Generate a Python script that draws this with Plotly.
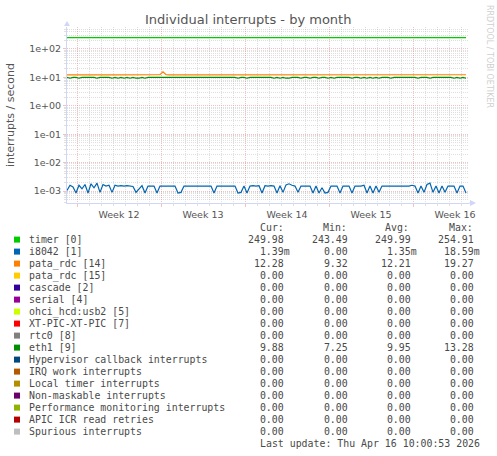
import plotly.graph_objects as go
import pandas as pd

# --- data (6 hour steps) ---
start_time = "2026-03-15 04:00"
n_points = 134

timer = [
    250.0, 250.1, 249.9, 250.0, 250.0, 250.1, 250.0, 249.9, 250.0, 250.0,
    250.0, 250.1, 250.0, 250.0, 249.9, 250.0, 250.0, 250.0, 250.1, 250.0,
    250.0, 250.0, 249.9, 250.0, 250.0, 250.0, 250.1, 250.0, 250.0, 250.0,
    250.0, 249.9, 250.0, 250.0, 250.0, 250.1, 250.0, 250.0, 250.0, 250.0,
    249.9, 250.0, 250.0, 250.0, 250.1, 250.0, 250.0, 250.0, 250.0, 249.9,
    250.0, 250.0, 250.1, 250.0, 250.0, 250.0, 250.0, 249.9, 250.0, 250.0,
    250.0, 250.1, 250.0, 250.0, 250.0, 249.9, 250.0, 250.0, 250.0, 250.1,
    250.0, 250.0, 250.0, 249.9, 250.0, 250.0, 250.0, 250.1, 250.0, 250.0,
    250.0, 249.9, 250.0, 250.0, 250.0, 250.1, 250.0, 250.0, 250.0, 250.0,
    249.9, 250.0, 250.0, 250.1, 250.0, 250.0, 250.0, 249.9, 250.0, 250.0,
    250.0, 250.1, 250.0, 250.0, 250.0, 250.0, 249.9, 250.0, 250.0, 250.1,
    250.0, 250.0, 250.0, 249.9, 250.0, 250.0, 250.0, 250.1, 250.0, 250.0,
    250.0, 249.9, 250.0, 250.0, 250.0, 250.1, 250.0, 250.0, 250.0, 249.9,
    250.0, 250.0, 250.0, 250.0,
]

# i8042 in milli-interrupts per second
i8042_milli = [
    1.05, 1.6, 1.4, 0.85, 1.6, 1.2, 1.7, 0.85, 1.8, 1.3,
    1.9, 0.9, 1.7, 1.5, 1.6, 0.9, 1.6, 1.5, 1.55, 1.5,
    1.55, 1.5, 1.45, 0.9, 1.2, 1.55, 0.85, 1.5, 1.5, 1.5,
    0.85, 1.5, 1.5, 1.5, 1.5, 1.5, 1.5, 0.85, 0.9, 1.5,
    1.5, 1.5, 1.5, 1.5, 1.5, 1.5, 1.5, 1.5, 1.5, 0.85,
    1.5, 1.5, 1.5, 1.5, 1.5, 1.5, 1.5, 0.85, 0.9, 1.5,
    0.85, 1.5, 1.55, 1.5, 1.55, 0.85, 1.55, 1.5, 1.55, 1.5,
    0.85, 1.55, 0.9, 1.65, 1.8, 1.6, 1.5, 0.9, 1.5, 1.5,
    1.5, 1.5, 0.85, 1.5, 0.85, 1.3, 0.85, 0.9, 1.5, 1.5,
    1.5, 0.85, 1.5, 1.5, 1.5, 0.85, 1.5, 1.5, 1.5, 1.6,
    0.85, 1.5, 0.85, 1.5, 0.9, 1.5, 1.5, 1.5, 1.5, 1.5,
    1.5, 1.5, 1.5, 1.5, 1.5, 1.6, 1.5, 0.85, 1.5, 0.9,
    1.7, 1.9, 0.9, 1.5, 0.85, 1.5, 0.9, 1.5, 1.5, 1.5,
    0.85, 1.5, 1.5, 0.85,
]

pata_rdc_14 = [
    12.2, 12.3, 12.2, 12.1, 12.2, 12.2, 12.3, 12.2, 12.2, 12.1,
    12.2, 12.2, 12.3, 12.2, 12.2, 12.2, 12.1, 12.2, 12.2, 12.3,
    12.2, 12.2, 12.2, 12.1, 12.2, 12.2, 12.3, 12.2, 12.2, 12.2,
    12.2, 12.4, 15.5, 12.3, 12.2, 12.2, 12.1, 12.2, 12.2, 12.3,
    12.2, 12.2, 12.2, 12.1, 12.2, 12.2, 12.3, 12.2, 12.2, 12.2,
    12.1, 12.2, 12.2, 12.3, 12.2, 12.2, 12.2, 12.1, 12.2, 12.2,
    12.3, 12.2, 12.2, 12.2, 12.1, 12.2, 12.2, 12.3, 12.2, 12.2,
    12.2, 12.1, 12.2, 12.2, 12.3, 12.2, 12.2, 12.2, 12.1, 12.2,
    12.2, 12.3, 12.2, 12.2, 12.2, 12.1, 12.2, 12.2, 12.3, 12.2,
    12.2, 12.2, 12.1, 12.2, 12.2, 12.3, 12.2, 12.2, 12.2, 12.1,
    12.2, 12.2, 12.3, 12.2, 12.2, 12.2, 12.1, 12.2, 12.2, 12.3,
    12.2, 12.2, 12.2, 12.1, 12.2, 12.2, 12.3, 12.2, 12.2, 12.2,
    12.1, 12.2, 12.2, 12.3, 12.2, 12.2, 12.2, 12.1, 12.2, 12.2,
    12.3, 12.2, 12.2, 12.3,
]

eth1 = [
    10.0, 9.3, 10.0, 10.0, 9.3, 10.0, 10.0, 10.0, 10.0, 10.0,
    9.3, 10.0, 10.0, 10.0, 10.0, 9.3, 10.0, 9.3, 10.0, 9.3,
    10.0, 9.3, 10.0, 9.3, 9.3, 10.0, 9.3, 10.0, 10.0, 10.0,
    10.0, 10.0, 10.1, 10.0, 10.0, 10.0, 10.0, 10.0, 10.0, 10.0,
    10.0, 10.0, 10.0, 10.0, 10.0, 10.0, 10.0, 10.0, 10.0, 10.0,
    10.0, 10.0, 10.0, 10.0, 10.0, 10.0, 10.0, 9.3, 10.0, 10.0,
    9.3, 10.0, 10.0, 10.0, 10.0, 10.0, 10.0, 10.0, 10.0, 9.3,
    10.0, 9.3, 10.0, 9.3, 9.3, 10.0, 10.0, 10.0, 9.3, 10.0,
    10.0, 9.3, 10.0, 10.0, 9.3, 10.0, 10.0, 9.3, 10.0, 9.3,
    10.0, 10.0, 10.0, 10.0, 10.0, 9.3, 10.0, 10.0, 9.3, 10.0,
    9.3, 10.0, 9.3, 10.0, 9.3, 10.0, 10.0, 10.0, 9.3, 10.0,
    10.0, 10.0, 10.0, 10.0, 10.0, 10.0, 10.0, 9.3, 10.0, 10.0,
    10.0, 9.3, 10.0, 10.0, 10.0, 10.0, 10.0, 10.0, 10.0, 9.3,
    10.0, 9.3, 10.0, 9.3,
]

# --- legend table ---
legend_names = [
    "timer [0]", "i8042 [1]", "pata_rdc [14]", "pata_rdc [15]", "cascade [2]",
    "serial [4]", "ohci_hcd:usb2 [5]", "XT-PIC-XT-PIC [7]", "rtc0 [8]", "eth1 [9]",
    "Hypervisor callback interrupts", "IRQ work interrupts", "Local timer interrupts",
    "Non-maskable interrupts", "Performance monitoring interrupts",
    "APIC ICR read retries", "Spurious interrupts",
]
legend_colors = [
    "#00CC00", "#0066B3", "#FF8000", "#FFCC00", "#330099",
    "#990099", "#CCFF00", "#FF0000", "#808080", "#008F00",
    "#00487D", "#B35A00", "#B38F00", "#6B006B", "#8FB300",
    "#B30000", "#BEBEBE",
]
cur_vals = [249.98, 1.39e-3, 12.28, 0, 0, 0, 0, 0, 0, 9.88, 0, 0, 0, 0, 0, 0, 0]
min_vals = [243.49, 0, 9.32, 0, 0, 0, 0, 0, 0, 7.25, 0, 0, 0, 0, 0, 0, 0]
avg_vals = [249.99, 1.35e-3, 12.21, 0, 0, 0, 0, 0, 0, 9.95, 0, 0, 0, 0, 0, 0, 0]
max_vals = [254.91, 18.59e-3, 19.27, 0, 0, 0, 0, 0, 0, 13.28, 0, 0, 0, 0, 0, 0, 0]

y_tickvals = [1e-3, 1e-2, 1e-1, 1e0, 1e1, 1e2]
y_ticktext = ["1e-03", "1e-02", "1e-01", "1e+00", "1e+01", "1e+02"]

last_update = "Last update: Thu Apr 16 10:00:53 2026"

# --- geometry (pixels) ---
W, H = 497, 456
PL, PR, PT, PB = 67, 469, 27, 203


def px_x(px):
    return (px - PL) / (PR - PL)


def px_y(py):
    return (PB - py) / (PB - PT)


def fmt(v):
    if 0 < v < 1:
        s = f"{v * 1000:6.2f}m"
    else:
        s = f"{v:6.2f} "
    return s.replace(" ", "\u00a0")


times = pd.date_range(start_time, periods=n_points, freq="6h")
i8042 = [v / 1000 for v in i8042_milli]

fig = go.Figure()
series = [
    ("timer [0]", timer, "#00CC00"),
    ("i8042 [1]", i8042, "#0066B3"),
    ("pata_rdc [14]", pata_rdc_14, "#FF8000"),
    ("eth1 [9]", eth1, "#008F00"),
]
for name, vals, color in series:
    fig.add_trace(go.Scatter(x=times, y=vals, name=name, mode="lines",
                             line=dict(color=color, width=1.2), showlegend=False,
                             hoverinfo="skip"))

MGRID = "rgba(235,130,130,0.5)"
GRID = "rgba(185,185,185,0.45)"
AXIS = "#CFD6F8"
FONT = "#4A4A4A"
MONO = "DejaVu Sans Mono"

fig.update_layout(
    width=W, height=H, autosize=False,
    margin=dict(l=PL, r=W - PR, t=PT, b=H - PB, pad=0),
    paper_bgcolor="white", plot_bgcolor="white",
    font=dict(family="DejaVu Sans", color=FONT, size=10),
    showlegend=False,
    xaxis=dict(
        type="date",
        range=["2026-03-15 04:00", "2026-04-17 16:00"],
        tick0="2026-03-16", dtick=7 * 86400000,
        tickformat="Week %V", ticklabelmode="period",
        showgrid=True, gridcolor=MGRID, griddash="1px,1px", gridwidth=1,
        ticks="outside", ticklen=3, tickcolor=MGRID,
        minor=dict(dtick=86400000, tick0="2026-03-16", showgrid=True,
                   gridcolor=GRID, griddash="1px,1px", ticks="outside",
                   ticklen=2, tickcolor=GRID),
        showline=True, linecolor=AXIS, linewidth=1,
        tickfont=dict(size=9.5, color="#555555"),
        zeroline=False, fixedrange=True,
    ),
    yaxis=dict(
        type="log",
        range=[-3.42, 2.77],
        tickmode="array", tickvals=y_tickvals, ticktext=y_ticktext,
        showgrid=True, gridcolor=MGRID, griddash="1px,1px", gridwidth=1,
        ticks="outside", ticklen=3, tickcolor=MGRID,
        minor=dict(tickmode="array",
                   tickvals=[m * 10.0 ** e for e in range(-4, 3) for m in range(2, 10)],
                   showgrid=True, gridcolor=GRID, griddash="1px,1px",
                   ticks="outside", ticklen=2, tickcolor=GRID),
        showline=True, linecolor=AXIS, linewidth=1,
        tickfont=dict(size=9.5, color="#555555"),
        zeroline=False, fixedrange=True,
    ),
)

# axis arrows
fig.add_shape(type="path", xref="paper", yref="paper",
              path=f"M {px_x(PL - 3)} {px_y(PT - 1)} L {px_x(PL + 3)} {px_y(PT - 1)} L {px_x(PL)} {px_y(PT - 6)} Z",
              fillcolor=AXIS, line=dict(width=0))
fig.add_shape(type="line", xref="paper", yref="paper",
              x0=px_x(PR), x1=px_x(PR + 2), y0=0, y1=0, line=dict(color=AXIS, width=1))
fig.add_shape(type="path", xref="paper", yref="paper",
              path=f"M {px_x(PR + 1)} {px_y(PB - 3)} L {px_x(PR + 1)} {px_y(PB + 3)} L {px_x(PR + 7)} {px_y(PB)} Z",
              fillcolor=AXIS, line=dict(width=0))


def text(t, x, y, size=9.9, family=MONO, xanchor="center", color=FONT, angle=0):
    return dict(text=t, x=px_x(x), y=px_y(y), xref="paper", yref="paper",
                xanchor=xanchor, yanchor="middle", showarrow=False, textangle=angle,
                font=dict(size=size, color=color, family=family))


ann = [
    text("Individual interrupts - by month", 248, 19, size=13, family="DejaVu Sans",
         color="#555555"),
    text("interrupts / second", 10, 115, size=11, family="DejaVu Sans", angle=-90,
         color="#555555"),
    text("RRDTOOL / TOBI OETIKER", 490, 56, size=8, family="DejaVu Sans",
         color="#CFCFCF", angle=90),
]

# legend header
for label, left in [("Cur:", 258), ("Min:", 321), ("Avg:", 383), ("Max:", 447)]:
    ann.append(text(label, left, 227.6, xanchor="left"))

col_edges = [292, 356, 419, 482]
for k, name in enumerate(legend_names):
    yc = 239.6 + 12.0 * k
    fig.add_shape(type="rect", xref="paper", yref="paper",
                  x0=px_x(14), x1=px_x(20), y0=px_y(yc - 3), y1=px_y(yc + 3),
                  fillcolor=legend_colors[k], line=dict(width=0))
    ann.append(text(name, 26.7, yc, xanchor="left"))
    for edge, vals in zip(col_edges, [cur_vals, min_vals, avg_vals, max_vals]):
        ann.append(text(fmt(vals[k]), edge, yc, xanchor="right"))

ann.append(text(last_update, 482.3, 239.6 + 12.0 * 17, xanchor="right"))

fig.update_layout(annotations=ann)

fig.write_html("out.html", config={"displayModeBar": False},
               post_script="document.body.style.margin='0';")
